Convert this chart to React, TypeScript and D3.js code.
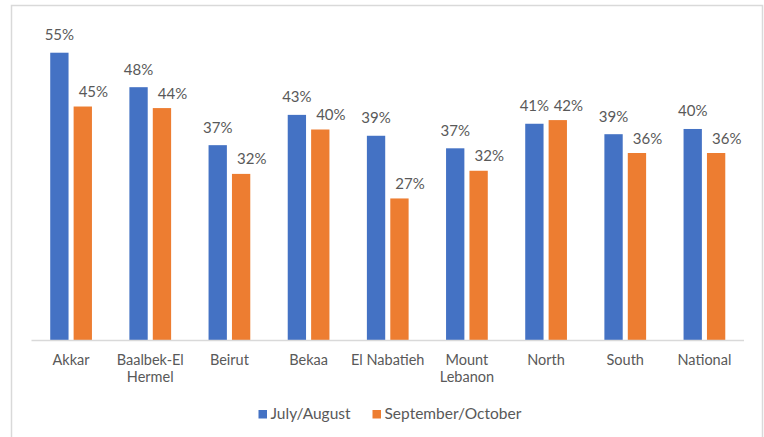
import React from "react";
import * as d3 from "d3";

const categories: string[][] = [
  ["Akkar"],
  ["Baalbek-El", "Hermel"],
  ["Beirut"],
  ["Bekaa"],
  ["El Nabatieh"],
  ["Mount", "Lebanon"],
  ["North"],
  ["South"],
  ["National"],
];
const seriesNames = ["July/August", "September/October"];
const julyAugust = [0.55, 0.484, 0.373, 0.431, 0.391, 0.367, 0.414, 0.394, 0.404];
const septOct = [0.447, 0.444, 0.318, 0.403, 0.271, 0.324, 0.421, 0.358, 0.358];
const colors = ["#4472C4", "#ED7D31"];

const W = 764;
const H = 437;
const textColor = "#595959";
const font = "Lato, 'Open Sans', sans-serif";

export default function App() {
  const keys = categories.map((c) => c.join(" "));
  const x0 = d3.scaleBand<string>().domain(keys).range([31.5, 744]).paddingInner(0).paddingOuter(0);
  const x1 = d3
    .scaleBand<string>()
    .domain(seriesNames)
    .range([0, x0.bandwidth()])
    .paddingInner(0.217)
    .paddingOuter(0.8);
  const y = d3.scaleLinear().domain([0, 0.6]).range([340, 26.6]);
  const fmt = d3.format(".0%");
  const data = [julyAugust, septOct];

  return (
    <svg
      width={W}
      height={H}
      style={{ position: "absolute", left: 0, top: 0, background: "#fff" }}
      fontFamily={font}
    >
      <rect x={11.5} y={5.5} width={751} height={440} fill="#fff" stroke="#D9D9D9" strokeWidth={1.5} />
      {keys.map((k, i) =>
        seriesNames.map((s, si) => {
          const v = data[si][i];
          const bx = (x0(k) ?? 0) + (x1(s) ?? 0);
          const bw = x1.bandwidth();
          const blueCx = (x0(k) ?? 0) + (x1(seriesNames[0]) ?? 0) + bw / 2;
          const lx = si === 0 ? bx + bw / 2 : Math.max(bx + bw / 2 + 5.5, blueCx + 34);
          return (
            <g key={k + s}>
              <rect x={bx} y={y(v)} width={bw} height={y(0) - y(v)} fill={colors[si]} />
              <text
                x={lx}
                y={y(v) - (si === 0 ? 12.5 : 9.5)}
                textAnchor="middle"
                fontSize={15}
                fill={textColor}
              >
                {fmt(Math.round(v * 100) / 100)}
              </text>
            </g>
          );
        })
      )}
      <line x1={31.5} x2={744} y1={340.5} y2={340.5} stroke="#D9D9D9" strokeWidth={1.5} />
      {categories.map((lines, i) => {
        const cx = (x0(keys[i]) ?? 0) + x0.bandwidth() / 2;
        return (
          <text key={keys[i]} textAnchor="middle" fontSize={14.5} fill={textColor}>
            {lines.map((l, li) => (
              <tspan key={li} x={cx} y={365 + li * 17}>
                {l}
              </tspan>
            ))}
          </text>
        );
      })}
      <g>
        {seriesNames.map((s, si) => {
          const lx = si === 0 ? 258.5 : 372.5;
          return (
            <g key={s}>
              <rect x={lx} y={410} width={8.5} height={8.5} fill={colors[si]} />
              <text x={lx + 12} y={418.5} fontSize={15.5} fill={textColor}>
                {s}
              </text>
            </g>
          );
        })}
      </g>
    </svg>
  );
}
